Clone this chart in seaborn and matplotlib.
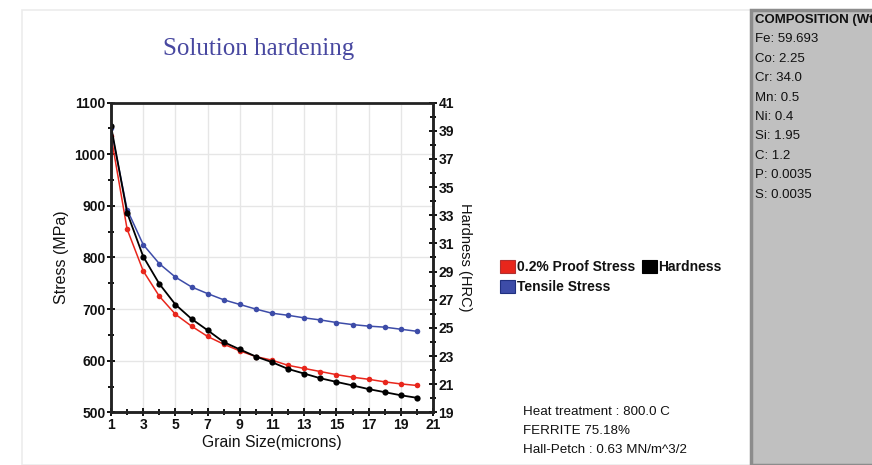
import matplotlib
matplotlib.use("Agg")
import matplotlib.pyplot as plt
from matplotlib.patches import Patch, Rectangle
import seaborn as sns

# grain size (microns)
grain_size = list(range(1, 21))

# stress curves (MPa)
proof_stress = [1036, 855, 774, 725, 690, 667, 647, 632, 619, 608,
                601, 591, 585, 579, 573, 568, 564, 559, 555, 552]
tensile_stress = [1050, 893, 825, 788, 762, 743, 730, 718, 709, 700,
                  692, 688, 683, 679, 674, 670, 667, 665, 661, 657]

# hardness (HRC) on the right axis
hardness = [39.35, 33.19, 30.07, 28.13, 26.66, 25.64, 24.83, 23.99, 23.47, 22.96,
            22.56, 22.08, 21.75, 21.42, 21.16, 20.91, 20.65, 20.43, 20.21, 20.03]

legend_labels = ["0.2% Proof Stress", "Tensile Stress", "Hardness"]
info_lines = ["Heat treatment : 800.0 C", "FERRITE 75.18%", "Hall-Petch : 0.63 MN/m^3/2"]
composition = ["COMPOSITION (Wt%)", "Fe: 59.693", "Co: 2.25", "Cr: 34.0", "Mn: 0.5",
               "Ni: 0.4", "Si: 1.95", "C: 1.2", "P: 0.0035", "S: 0.0035"]

RED = "#e8261c"
BLUE = "#3d4ca8"
BLACK = "#000000"
TXT = "#111111"

sns.set_theme(style="whitegrid")
plt.rcParams["font.family"] = ["Liberation Sans", "DejaVu Sans"]

fig = plt.figure(figsize=(8.72, 4.65), dpi=100)

# light frame round the chart area and the grey composition panel
fig.add_artist(Rectangle((22 / 872, 0), (751 - 22) / 872, 1 - 10 / 465,
                         transform=fig.transFigure, facecolor="white",
                         edgecolor="#ececec", lw=1.2, zorder=0))
fig.add_artist(Rectangle((751 / 872, 0), 1, 1 - 10 / 465,
                         transform=fig.transFigure, facecolor="#c0c0c0",
                         edgecolor="#8c8c8c", lw=2.5, zorder=0))

ax = fig.add_axes([111 / 872, 1 - 412.3 / 465, (433 - 111) / 872, (412.3 - 102.7) / 465])
ax.set_facecolor("white")

sns.lineplot(x=grain_size, y=tensile_stress, ax=ax, color=BLUE, marker="o",
             markersize=4, markeredgewidth=0, lw=1.1)
sns.lineplot(x=grain_size, y=proof_stress, ax=ax, color=RED, marker="o",
             markersize=4, markeredgewidth=0, lw=1.1)

ax2 = ax.twinx()
sns.lineplot(x=grain_size, y=hardness, ax=ax2, color=BLACK, marker="o",
             markersize=4.5, markeredgewidth=0, lw=1.3)

ax.set_xlim(1, 21)
ax.set_ylim(500, 1100)
ax2.set_ylim(19, 41)

ax.set_xticks(range(1, 22, 2))
ax.set_xticks(range(1, 22), minor=True)
ax.set_yticks(range(500, 1101, 100))
ax.set_yticks(range(500, 1101, 50), minor=True)
ax2.set_yticks(range(19, 42, 2))
ax2.set_yticks(range(19, 42), minor=True)

ax.grid(True, which="major", color="#e6e6e6", lw=1)
ax.grid(False, which="minor")
ax2.grid(False)

for a in (ax, ax2):
    a.tick_params(which="both", direction="inout", length=6, width=1.3,
                  color="black", labelsize=10, labelcolor=TXT, pad=1)
    a.tick_params(which="minor", length=5)
    for lab in a.get_xticklabels() + a.get_yticklabels():
        lab.set_fontweight("bold")
    for s in a.spines.values():
        s.set_color("#222222")
        s.set_linewidth(1.8)
ax.spines["top"].set_color("#666666")
ax.tick_params(axis="x", which="both", bottom=True)
ax.tick_params(axis="y", which="both", left=True)
ax2.tick_params(axis="y", which="both", right=True)

ax.set_xlabel("Grain Size(microns)", fontsize=11.3, color=TXT, labelpad=2)
ax.set_ylabel("Stress (MPa)", fontsize=11.5, color=TXT, labelpad=4)
ax2.set_ylabel("Hardness (HRC)", fontsize=10.5, color=TXT, rotation=270, labelpad=13)

fig.text(259 / 872, 1 - 55 / 465, "Solution hardening", ha="center", va="baseline",
         fontsize=18, color="#4848a0", family=["Liberation Serif", "DejaVu Serif"])

handles = [Patch(facecolor=RED, edgecolor="#b03030", lw=0.8),
           Patch(facecolor=BLUE, edgecolor="#203080", lw=0.8),
           Patch(facecolor=BLACK, edgecolor=BLACK, lw=0.8)]
leg = fig.legend(handles, legend_labels, ncol=2, loc="upper left",
                 bbox_to_anchor=(500 / 872, 1 - 260 / 465), frameon=False,
                 fontsize=10, handlelength=1.1, handleheight=1.1, handletextpad=0.1,
                 columnspacing=0.5, labelspacing=0.4, borderaxespad=0, borderpad=0)
for t in leg.get_texts():
    t.set_fontweight("bold")
    t.set_color(TXT)

for i, (line, yy) in enumerate(zip(info_lines, [412, 431, 450])):
    fig.text(523 / 872, 1 - yy / 465, line, ha="left", va="center",
             fontsize=9.6, color=TXT)

for i, line in enumerate(composition):
    fig.text(755 / 872, 1 - (20 + 19.4 * i) / 465, line, ha="left", va="center",
             fontsize=9.5, color=TXT, weight="bold" if i == 0 else "normal")

fig.savefig("out.png", dpi=100)
